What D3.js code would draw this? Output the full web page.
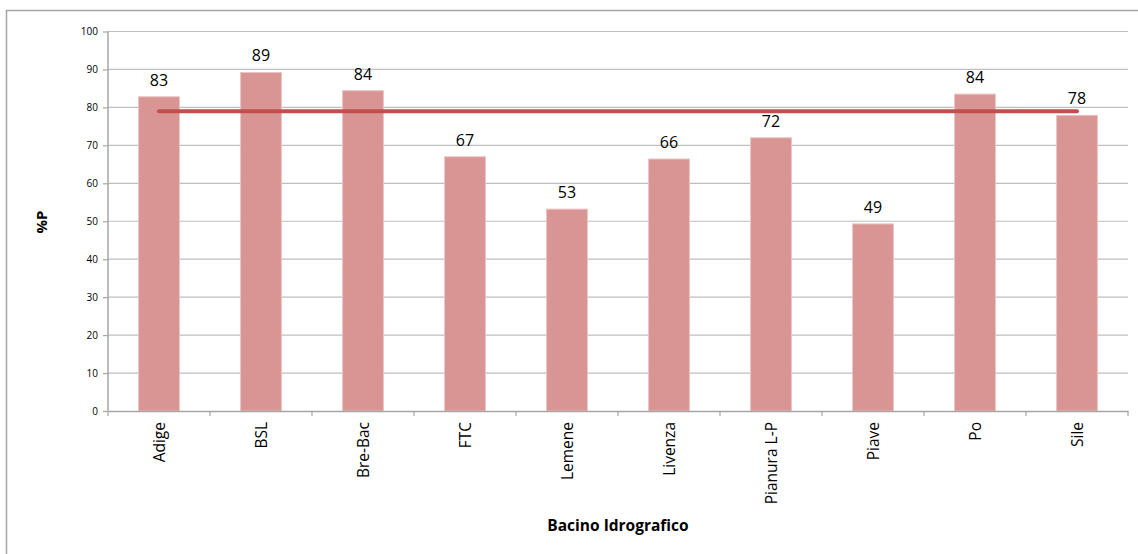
<!DOCTYPE html>
<html>
<head>
<meta charset="utf-8">
<script src="https://cdn.jsdelivr.net/npm/d3@7"></script>
<style>
  html, body { margin: 0; padding: 0; background: #fff; }
  svg { display: block; }
  text { font-family: "Open Sans", "Noto Sans", sans-serif; fill: #000; }
</style>
</head>
<body>
<svg id="chart" width="1138" height="554"></svg>
<script>
// Basins and their %P values
const categories = ["Adige", "BSL", "Bre-Bac", "FTC", "Lemene", "Livenza", "Pianura L-P", "Piave", "Po", "Sile"];
const values = [82.8, 89.2, 84.4, 67.0, 53.2, 66.4, 72.0, 49.3, 83.5, 77.9];
const meanValue = 79;
const yTicks = [0, 10, 20, 30, 40, 50, 60, 70, 80, 90, 100];

const svg = d3.select("#chart");
const margin = { left: 108, top: 31.5 };
const plotW = 1020, plotH = 379.5;

// outer frame (only top and left edges fall inside the view)
svg.append("rect")
  .attr("x", 6.5).attr("y", 10.5)
  .attr("width", 1200).attr("height", 600)
  .attr("fill", "none").attr("stroke", "#a6a6a6").attr("stroke-width", 1.5);

const g = svg.append("g").attr("transform", `translate(${margin.left},${margin.top})`);

const x = d3.scaleBand().domain(categories).range([0, plotW]).paddingInner(0.6).paddingOuter(0.3);
const xBand = d3.scaleBand().domain(categories).range([0, plotW]);
const y = d3.scaleLinear().domain([0, 100]).range([plotH, 0]);

// horizontal gridlines
g.append("g").selectAll("line").data(yTicks.filter(d => d > 0)).join("line")
  .attr("x1", 0).attr("x2", plotW)
  .attr("y1", d => y(d)).attr("y2", d => y(d))
  .attr("stroke", "#bfbfbf").attr("stroke-width", 1.2);

// bars
g.append("g").selectAll("rect").data(values).join("rect")
  .attr("x", (d, i) => x(categories[i]))
  .attr("y", d => y(d))
  .attr("width", x.bandwidth())
  .attr("height", d => plotH - y(d))
  .attr("fill", "#d99594")
  .attr("stroke", "#ebc3c2").attr("stroke-width", 1);

// value labels
g.append("g").selectAll("text").data(values).join("text")
  .attr("x", (d, i) => x(categories[i]) + x.bandwidth() / 2)
  .attr("y", d => y(d) - 11)
  .attr("text-anchor", "middle")
  .attr("font-size", 16)
  .text(d => Math.round(d));

// mean line across category centres
const lineGen = d3.line()
  .x(d => xBand(d) + xBand.bandwidth() / 2)
  .y(() => y(meanValue));
g.append("path")
  .datum([categories[0], categories[categories.length - 1]])
  .attr("d", lineGen)
  .attr("stroke", "#c0504d").attr("stroke-width", 4)
  .attr("stroke-linecap", "round").attr("fill", "none");

// y axis
const yAxis = g.append("g")
  .call(d3.axisLeft(y).tickValues(yTicks).tickSize(5).tickPadding(5));
yAxis.select(".domain").attr("stroke", "#a6a6a6").attr("stroke-width", 1.5).attr("d", `M0,${plotH}V0`);
yAxis.selectAll(".tick line").attr("stroke", "#a6a6a6").attr("stroke-width", 1.2);
yAxis.selectAll(".tick text").attr("font-size", 10).attr("font-family", "'Open Sans', sans-serif");

// x axis
const xAxis = g.append("g").attr("transform", `translate(0,${plotH})`)
  .call(d3.axisBottom(xBand).tickSize(0).tickFormat(""));
xAxis.select(".domain").attr("stroke", "#a6a6a6").attr("stroke-width", 1.5);
xAxis.selectAll(".tick").remove();

// category boundary ticks
const bounds = d3.range(categories.length + 1).map(i => i * xBand.step());
xAxis.append("g").selectAll("line").data(bounds).join("line")
  .attr("x1", d => d).attr("x2", d => d)
  .attr("y1", 0).attr("y2", 5)
  .attr("stroke", "#a6a6a6").attr("stroke-width", 1.2);

// rotated category labels
xAxis.append("g").selectAll("text").data(categories).join("text")
  .attr("transform", d => `translate(${xBand(d) + xBand.bandwidth() / 2 + 6},${11}) rotate(-90)`)
  .attr("text-anchor", "end")
  .attr("font-size", 15.5)
  .text(d => d);

// axis titles
svg.append("text")
  .attr("transform", "translate(47,222) rotate(-90)")
  .attr("text-anchor", "middle")
  .attr("font-size", 15).attr("font-weight", "bold")
  .text("%P");

svg.append("text")
  .attr("x", 618).attr("y", 531)
  .attr("text-anchor", "middle")
  .attr("font-size", 15.5).attr("font-weight", "bold")
  .text("Bacino Idrografico");
</script>
</body>
</html>
